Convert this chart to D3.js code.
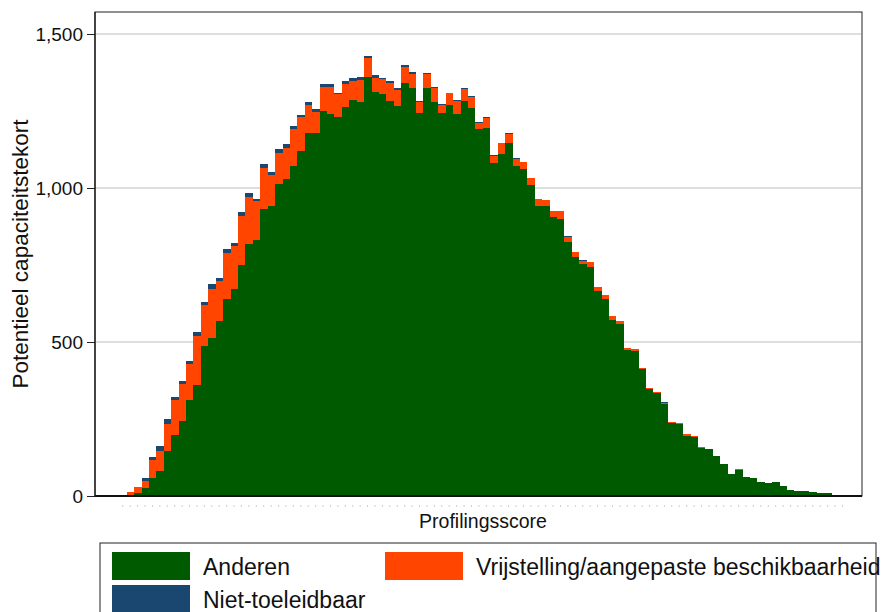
<!DOCTYPE html>
<html>
<head>
<meta charset="utf-8">
<script src="https://cdn.jsdelivr.net/npm/d3@7/dist/d3.min.js"></script>
<style>
  html, body { margin: 0; padding: 0; background: #fff; }
  svg { display: block; font-family: "Liberation Sans", Arial, sans-serif; }
</style>
</head>
<body>
<svg id="chart" width="882" height="612"></svg>
<script>
// Profiling score bins (one bar per bin)
const bins = d3.range(95);

// Potential capacity shortfall per bin, by group
const anderen = [4,9,25,58,82,146,199,242,312,360,
  487,512,569,641,672,751,817,831,931,943,
  1012,1028,1072,1120,1178,1177,1250,1240,1230,1263,
  1286,1280,1360,1313,1304,1283,1267,1342,1325,1244,
  1326,1280,1244,1270,1240,1283,1261,1191,1194,1082,
  1110,1145,1071,1062,1010,943,942,905,898,826,
  777,754,745,666,640,571,558,474,472,411,
  346,333,300,236,234,196,192,156,151,129,
  104,70,86,63,57,47,42,47,32,19,
  17,17,12,9,9];
const vrijstelling = [8,19,25,58,65,89,113,121,116,161,
  132,160,130,149,141,158,153,128,135,99,
  101,103,120,111,91,70,79,89,74,76,
  63,70,61,45,49,58,51,51,46,36,
  43,46,25,38,43,38,35,21,32,23,
  35,31,23,22,23,20,19,19,26,16,
  15,9,14,13,11,13,9,5,4,5,
  5,4,3,4,4,4,2,2,2,1,
  1,1,1,0,0,0,0,0,0,0,
  0,0,0,0,0];
const nietToeleidbaar = [0,2,8,11,16,14,8,10,10,11,
  11,17,10,11,8,12,13,6,11,9,
  14,13,8,7,9,9,9,8,4,10,
  8,10,8,9,3,6,6,5,6,3,
  3,1,4,2,2,3,3,1,4,1,
  1,1,4,1,1,1,1,1,1,2,
  1,3,1,1,1,1,1,1,1,1,
  1,1,1,0,0,0,0,0,0,0,
  0,0,0,0,0,0,0,0,0,0,
  0,0,0,0,0];

const seriesKeys = ["Anderen", "Vrijstelling/aangepaste beschikbaarheid", "Niet-toeleidbaar"];
const seriesColors = ["#005a00", "#ff4500", "#1a476f"];
const yTicks = [0, 500, 1000, 1500];
const xTitle = "Profilingsscore";
const yTitle = "Potentieel capaciteitstekort";

const rows = bins.map((b, i) => ({
  bin: b,
  [seriesKeys[0]]: anderen[i],
  [seriesKeys[1]]: vrijstelling[i],
  [seriesKeys[2]]: nietToeleidbaar[i]
}));

const svg = d3.select("#chart");
const plot = { left: 95, right: 862, top: 12, bottom: 496 };

const x = d3.scaleLinear().domain([-4.27, 99.1]).range([plot.left, plot.right]);
const y = d3.scaleLinear().domain([0, 1500]).range([plot.bottom, 34]);

const color = d3.scaleOrdinal().domain(seriesKeys).range(seriesColors);

// Plot frame
svg.append("rect")
  .attr("x", plot.left).attr("y", plot.top)
  .attr("width", plot.right - plot.left).attr("height", plot.bottom - plot.top)
  .attr("fill", "#fff").attr("stroke", "#222").attr("stroke-width", 1);

// Horizontal gridlines
svg.append("g")
  .selectAll("line")
  .data(yTicks.filter(d => d > 0))
  .join("line")
  .attr("x1", plot.left + 1).attr("x2", plot.right - 1)
  .attr("y1", d => y(d)).attr("y2", d => y(d))
  .attr("stroke", "#dedede").attr("stroke-width", 2);

// Stacked bars
const stack = d3.stack().keys(seriesKeys);
const layers = stack(rows);

svg.append("g")
  .selectAll("g")
  .data(layers)
  .join("g")
  .attr("fill", d => color(d.key))
  .selectAll("rect")
  .data(d => d)
  .join("rect")
  .attr("x", d => x(d.data.bin))
  .attr("width", d => x(d.data.bin + 1) - x(d.data.bin))
  .attr("y", d => y(d[1]))
  .attr("height", d => Math.max(0, y(d[0]) - y(d[1])))
  .attr("shape-rendering", "crispEdges");

// Y axis
const yAxis = d3.axisLeft(y)
  .tickValues(yTicks)
  .tickSize(8)
  .tickPadding(4)
  .tickFormat(d3.format(","));

const yg = svg.append("g")
  .attr("transform", `translate(${plot.left},0)`)
  .call(yAxis);
yg.select(".domain").remove();
yg.selectAll(".tick line").attr("stroke", "#222");
yg.selectAll(".tick text")
  .attr("font-size", 19)
  .attr("font-family", "Liberation Sans, Arial, sans-serif")
  .attr("fill", "#111");

// Left axis line and baseline
svg.append("line")
  .attr("x1", plot.left).attr("x2", plot.left)
  .attr("y1", plot.top).attr("y2", plot.bottom)
  .attr("stroke", "#111").attr("stroke-width", 1.2);
svg.append("line")
  .attr("x1", plot.left).attr("x2", plot.right)
  .attr("y1", plot.bottom).attr("y2", plot.bottom)
  .attr("stroke", "#111").attr("stroke-width", 2);

// X axis: small unlabelled ticks
const xAxis = d3.axisBottom(x)
  .tickValues(d3.range(98).map(k => k - 0.6))
  .tickSize(2)
  .tickFormat("");
const xg = svg.append("g")
  .attr("transform", `translate(0,${plot.bottom + 9})`)
  .call(xAxis);
xg.select(".domain").remove();
xg.selectAll(".tick line").attr("stroke", "#cfcfcf");

// Axis titles
svg.append("text")
  .attr("x", 483)
  .attr("y", 528)
  .attr("text-anchor", "middle")
  .attr("font-size", 19.5)
  .attr("fill", "#111")
  .text(xTitle);

svg.append("text")
  .attr("transform", `translate(28,${(plot.top + plot.bottom) / 2}) rotate(-90)`)
  .attr("text-anchor", "middle")
  .attr("font-size", 22.5)
  .attr("fill", "#111")
  .text(yTitle);

// Legend
const legend = svg.append("g");
legend.append("rect")
  .attr("x", 100).attr("y", 543)
  .attr("width", 776).attr("height", 90)
  .attr("fill", "#fff").attr("stroke", "#222").attr("stroke-width", 1);

const legendItems = [
  { key: seriesKeys[0], sx: 112, sy: 552 },
  { key: seriesKeys[1], sx: 385, sy: 552 },
  { key: seriesKeys[2], sx: 112, sy: 585 }
];
const li = legend.selectAll("g.item")
  .data(legendItems)
  .join("g")
  .attr("class", "item");
li.append("rect")
  .attr("x", d => d.sx).attr("y", d => d.sy)
  .attr("width", 78).attr("height", 28)
  .attr("fill", d => color(d.key));
li.append("text")
  .attr("x", d => d.sx + 91)
  .attr("y", d => d.sy + 23)
  .attr("font-size", 23)
  .attr("fill", "#111")
  .text(d => d.key);
</script>
</body>
</html>
